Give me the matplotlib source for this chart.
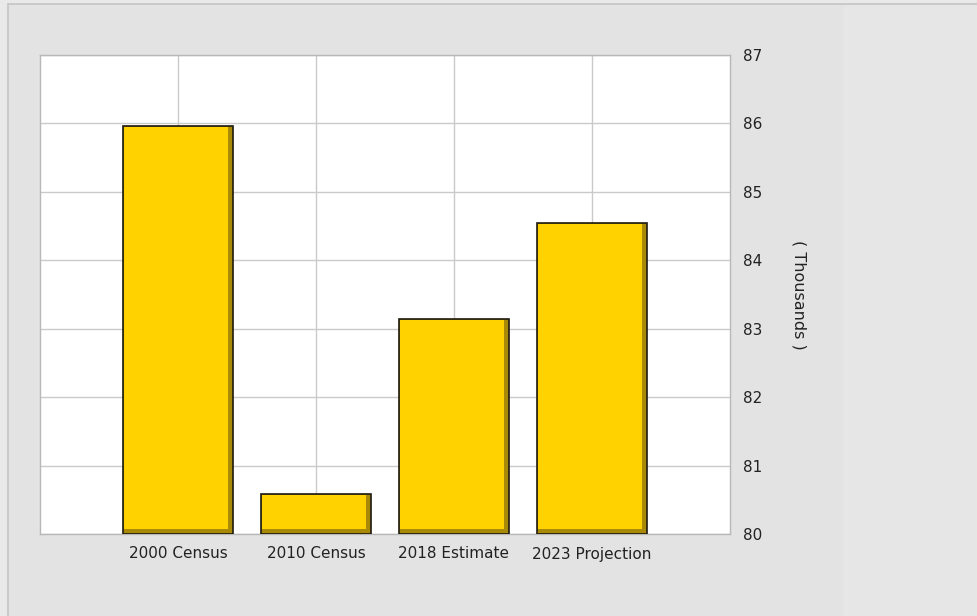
import numpy as np
import matplotlib.pyplot as plt
from matplotlib.patches import Rectangle

categories = ['2000 Census', '2010 Census', '2018 Estimate', '2023 Projection']
values = [85.96, 80.58, 83.14, 84.54]
yticks = [80, 81, 82, 83, 84, 85, 86, 87]

fig = plt.figure(figsize=(9.78, 6.16), dpi=100)
fig.patch.set_facecolor('#e9e9e9')

# outer panel with its thin border (kept behind the axes)
fig.patches.append(Rectangle((8/978, -0.1), 1.2, (616-4)/616 + 0.1, transform=fig.transFigure,
                             facecolor='#e3e3e3', edgecolor='#c4c4c4', linewidth=1.2, zorder=-10))
fig.patches.append(Rectangle((843/978, -0.1), 1.0, (616-5)/616 + 0.1, transform=fig.transFigure,
                             facecolor='#e6e6e6', edgecolor='none', zorder=-9))

ax = fig.add_axes([40/978, (616-534)/616, 690/978, 479/616])
ax.set_facecolor('white')

x = np.arange(1, len(categories) + 1)
w = 0.8
base = yticks[0]
heights = [v - base for v in values]

# dark body with outline, then the bright face (bevel look)
ax.bar(x, heights, width=w, bottom=base, color='#a88a08', edgecolor='#1e1a10',
       linewidth=1.2, zorder=3)
ax.bar(x - 0.014, [h - 0.085 for h in heights], width=w - 0.048, bottom=base + 0.07,
       color='#ffd200', edgecolor='none', zorder=4)

ax.set_xlim(0, 5)
ax.set_ylim(80, 87)
ax.set_xticks(x)
ax.set_xticklabels(categories, fontsize=11, color='#222222')
ax.set_yticks(yticks)
ax.yaxis.tick_right()
ax.yaxis.set_label_position('right')
ax.set_yticklabels([str(t) for t in yticks], fontsize=11, color='#222222')
ax.tick_params(axis='both', length=0)
ax.tick_params(axis='y', pad=9)
ax.tick_params(axis='x', pad=9)
ax.set_ylabel('( Thousands )', rotation=-90, fontsize=11.5, color='#222222', labelpad=32)

ax.grid(True, color='#cacaca', linewidth=1.0, zorder=0)
ax.set_axisbelow(True)
for s in ax.spines.values():
    s.set_color('#b8b8b8')
    s.set_linewidth(1.0)

fig.savefig('out.png', dpi=100, facecolor=fig.get_facecolor())
